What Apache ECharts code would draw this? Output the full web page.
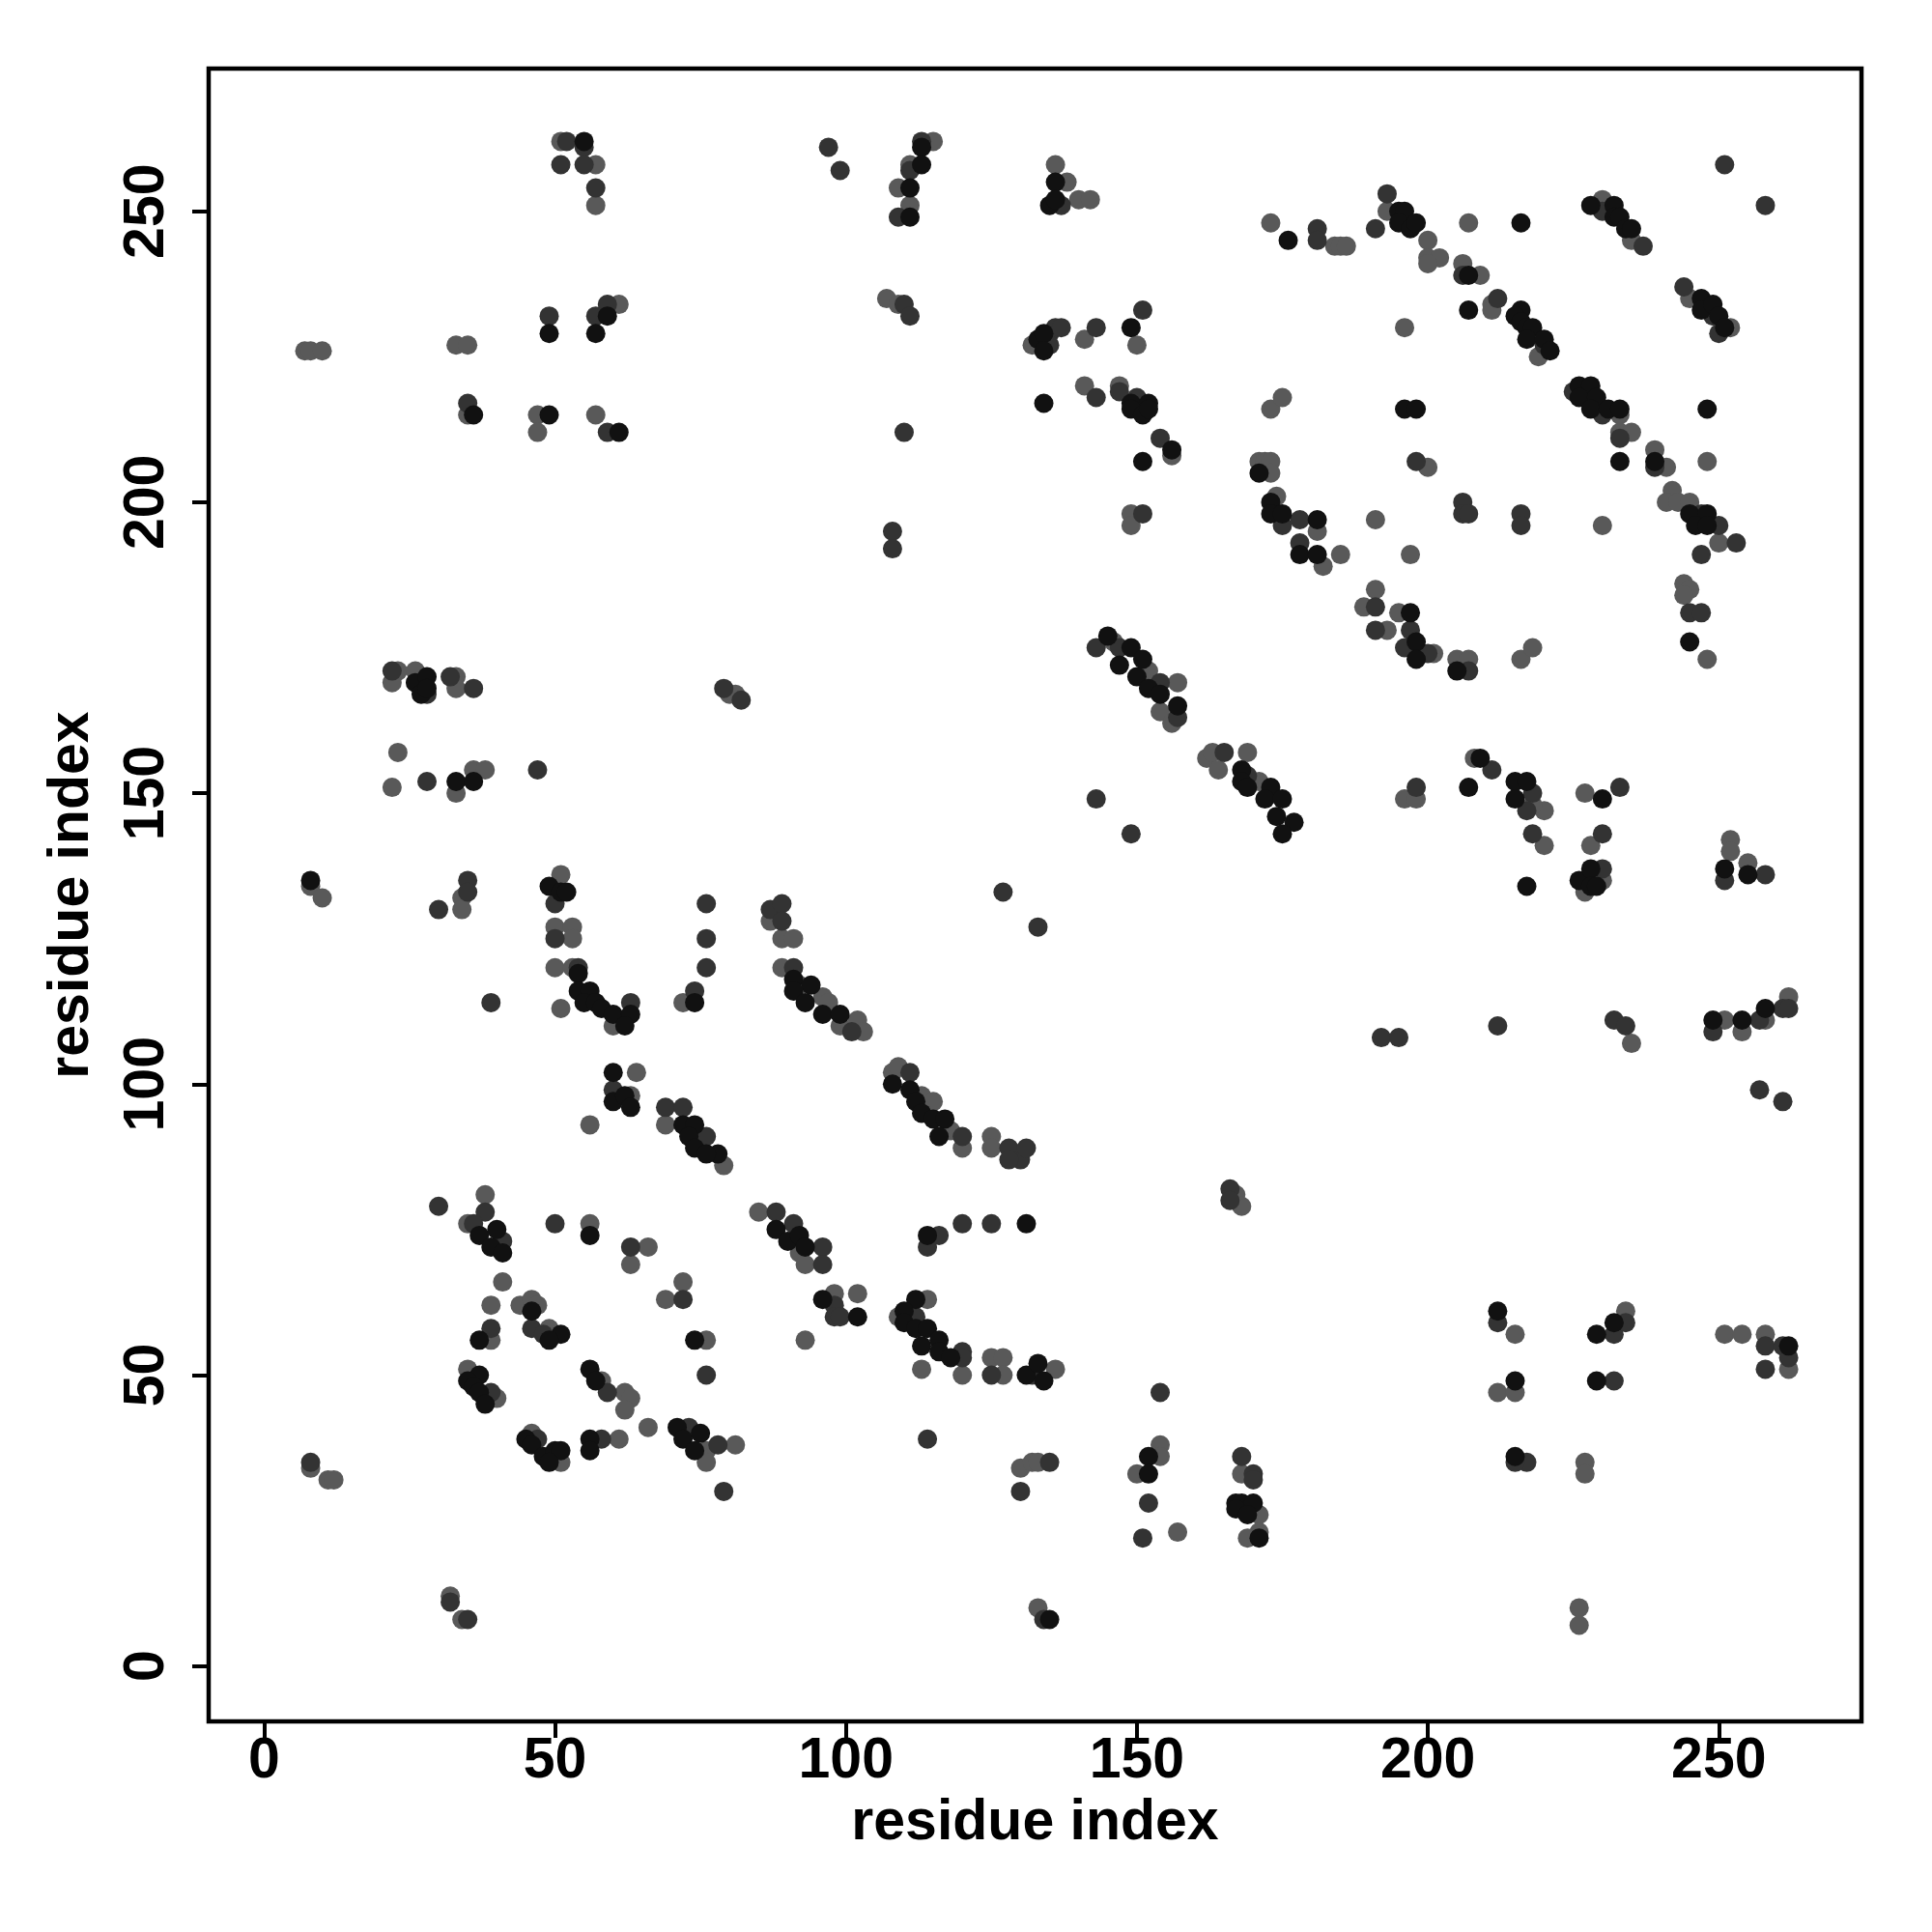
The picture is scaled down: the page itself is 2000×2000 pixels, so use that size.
<!DOCTYPE html>
<html>
<head>
<meta charset="utf-8">
<script src="https://cdn.jsdelivr.net/npm/echarts@6/dist/echarts.min.js"></script>
<style>
html,body{margin:0;padding:0;background:#fff;}
#chart{width:2000px;height:2000px;}
</style>
</head>
<body>
<div id="chart"></div>
<script>
// tick values for both axes
var tickValues = [0, 50, 100, 150, 200, 250];

// contacts drawn in black (highest score)
var blackContacts = [
[55,262],[59,232],[49,229],[57,229],[36,215],[49,215],[61,212],
[113,261],[113,258],[111,254],[111,249],
[136,255],[135,251],[136,252],[176,245],[195,250],[196,250],[195,248],[197,247],[198,248],[133,228],[134,229],[134,226],[149,230],[134,217],[149,217],[152,217],[149,216],[151,215],[152,216],[156,209],[151,207],[171,205],[196,216],[198,216],[173,200],[173,198],[175,198],[181,197],[178,191],[181,191],[197,181],
[216,248],[207,239],[207,233],[216,233],[215,232],[216,231],[217,230],[218,230],[217,228],[220,228],[221,226],[228,251],[232,251],[232,249],[233,249],[234,247],[235,247],[247,235],[247,233],[249,234],[250,232],[251,230],[226,220],[228,220],[226,218],[229,218],[228,216],[231,216],[233,216],[233,207],[239,207],[248,216],[245,198],[248,198],[246,196],[248,196],
[26,169],[28,170],[27,167],[28,168],[33,152],[36,152],[8,135],[49,134],[51,133],[52,133],[54,119],[54,116],[56,116],[55,114],[57,114],[58,113],[60,112],[60,102],[60,97],
[74,114],[63,112],[62,110],[91,118],[94,117],[91,116],[93,114],[96,112],[99,112],[108,100],[111,99],[112,97],[113,95],[115,94],[117,94],[116,91],[72,93],[74,93],[73,91],[74,89],[78,88],[76,88],[62,98],[63,96],
[145,177],[149,175],[147,172],[151,173],[150,170],[152,168],[154,167],[157,165],[168,154],[168,152],[169,151],[173,151],[172,149],[175,149],[174,146],[177,145],[175,143],[198,176],[198,173],
[205,171],[245,176],[209,156],[207,151],[215,152],[217,152],[215,149],[217,134],[230,149],[226,135],[228,137],[228,134],[229,134],[251,137],[255,136],[249,111],[254,111],[258,113],
[37,74],[39,72],[40,75],[41,71],[56,74],[46,61],[37,56],[51,57],[49,56],[37,50],[35,49],[36,48],[37,47],[38,45],[56,51],[57,49],[45,39],[46,38],[48,36],[50,37],[51,37],[49,35],[56,39],[56,37],
[88,75],[90,73],[92,74],[93,72],[74,56],[96,63],[102,60],[114,74],[131,76],[112,63],[110,61],[110,59],[112,58],[114,58],[113,55],[116,56],[116,54],[118,53],[131,50],[71,41],[72,39],[75,40],[74,37],
[133,52],[134,49],[152,36],[152,33],[167,28],[168,28],[170,28],[167,27],[169,26],[171,22],[135,8],
[212,61],[229,57],[232,59],[215,49],[229,49],[215,36],[262,55]
];

// contacts drawn in dark grey (medium score)
var darkContacts = [
[52,262],[55,261],[51,258],[55,258],[57,254],[59,234],[57,232],[49,232],[35,217],[59,212],
[97,261],[99,257],[113,262],[111,257],[109,249],[110,234],[111,232],[110,212],[108,195],[108,192],
[137,251],[181,247],[181,245],[191,247],[193,253],[135,229],[136,230],[137,230],[135,227],[143,230],[151,233],[143,218],[147,219],[150,218],[154,211],[198,207],[151,198],[175,196],[178,197],[178,193],[191,182],
[251,258],[258,251],[206,239],[212,235],[220,227],[230,250],[237,244],[244,237],[249,232],[250,229],[225,219],[230,215],[233,211],[239,206],[247,198],[250,196],[253,193],[247,191],[245,181],[247,181],[206,200],[206,198],[207,198],[216,198],[216,196],
[22,171],[28,167],[32,170],[36,168],[28,152],[47,154],[35,135],[35,133],[30,130],[50,131],[50,125],[54,120],[39,114],[60,99],
[79,168],[82,166],[76,131],[76,125],[76,120],[74,116],[63,114],[87,130],[89,131],[89,128],[91,120],[101,109],[127,133],[111,102],[120,91],[128,89],[130,87],[131,89],[128,87],[69,96],[72,96],[76,91],
[143,175],[147,175],[154,169],[157,163],[165,157],[169,153],[198,151],[143,149],[149,143],[191,178],[197,178],[200,174],[196,175],[133,127],[192,108],[195,108],
[207,171],[211,154],[218,150],[217,147],[218,143],[233,151],[230,143],[230,137],[251,135],[258,136],[212,110],[232,111],[234,110],[249,109],[257,111],[261,113],[262,113],[257,99],[261,97],
[30,79],[38,78],[36,76],[41,73],[50,76],[39,58],[46,58],[48,57],[39,47],[59,47],[47,39],[58,39],[8,35],[32,11],[35,8],
[88,78],[91,76],[96,72],[96,69],[63,72],[72,63],[76,50],[98,62],[98,60],[99,60],[116,74],[114,72],[120,76],[125,76],[112,60],[120,54],[120,53],[125,50],[114,39],[73,41],[78,38],[79,30],[130,30],
[166,82],[166,80],[132,50],[154,47],[135,35],[152,28],[151,22],[168,36],[170,33],[170,32],[134,8],
[212,59],[232,57],[234,59],[232,49],[217,35],[215,35],[258,55],[261,55],[258,51],[262,53]
];

// contacts drawn in light grey (lower score)
var grayContacts = [
[51,262],[57,258],[57,251],[61,234],[7,226],[8,226],[10,226],[33,227],[35,227],[35,215],[47,215],[47,212],[57,215],
[115,262],[111,258],[109,254],[111,251],[107,235],[109,234],
[136,258],[138,255],[140,252],[142,252],[173,248],[184,244],[185,244],[186,244],[193,250],[200,245],[200,242],[202,242],[200,241],[132,227],[141,228],[150,227],[196,230],[141,220],[147,220],[156,208],[171,207],[172,207],[173,207],[173,205],[200,206],[149,198],[149,196],[174,201],[181,195],[182,189],[185,191],[191,197],[197,191],[191,185],[189,182],[195,181],[173,216],[175,218],
[207,248],[206,241],[209,239],[211,234],[211,233],[219,225],[230,252],[235,245],[245,235],[252,230],[233,215],[233,212],[235,212],[239,209],[241,206],[248,207],[242,202],[241,200],[243,200],[245,200],[250,193],[244,186],[245,185],[244,184],[230,196],
[23,171],[22,169],[26,171],[33,170],[33,168],[23,157],[22,151],[33,150],[36,154],[38,154],[8,134],[10,132],[34,132],[34,130],[51,136],[50,127],[53,127],[53,125],[50,120],[53,120],[51,113],[60,110],[56,93],
[80,167],[81,167],[72,114],[87,128],[89,125],[91,125],[89,120],[92,117],[96,115],[97,114],[99,110],[102,111],[103,109],[108,102],[109,103],[113,98],[115,97],[118,92],[120,89],[125,91],[125,89],[69,93],[79,86],[64,102],[63,98],
[146,176],[152,171],[157,169],[154,164],[156,162],[162,156],[163,157],[164,154],[169,157],[171,152],[196,149],[198,149],[193,178],[201,174],
[205,173],[207,173],[216,173],[218,175],[248,173],[208,156],[220,147],[218,148],[220,141],[227,150],[228,141],[227,133],[230,135],[252,142],[252,140],[255,138],[235,107],[251,111],[254,109],[258,111],[262,115],
[38,81],[35,76],[56,76],[41,66],[39,62],[44,62],[46,63],[47,62],[39,56],[49,58],[35,51],[40,46],[58,49],[46,40],[51,35],[61,39],[8,34],[11,32],[12,32],[32,12],[34,8],
[85,78],[92,71],[93,69],[66,72],[63,69],[72,66],[69,63],[76,56],[93,56],[98,64],[102,64],[114,63],[109,60],[113,51],[120,50],[125,53],[127,53],[127,50],[62,47],[63,46],[62,44],[66,41],[76,37],[81,38],[76,35],[130,34],[132,35],
[167,81],[168,79],[136,51],[133,35],[154,38],[154,36],[150,33],[157,23],[168,33],[171,26],[171,23],[169,22],[133,10],
[215,57],[234,61],[212,47],[215,47],[227,35],[227,33],[226,10],[226,7],[251,57],[254,57],[258,57],[262,51]
];

var FONT = 'Liberation Sans';
var chart = echarts.init(document.getElementById('chart'), null, {renderer: 'canvas', width: 2000, height: 2000});

function makeAxis(isX) {
  return {
    type: 'value',
    min: -9.52,
    max: 274.52,
    name: 'residue index',
    nameLocation: 'middle',
    nameGap: isX ? 76 : 112,
    nameRotate: isX ? 0 : 90,
    nameTextStyle: {fontFamily: FONT, fontWeight: 'bold', fontSize: 59, color: '#000'},
    splitLine: {show: false},
    axisLine: {show: true, onZero: false, lineStyle: {color: '#000', width: 4}},
    axisTick: {show: true, inside: false, length: 17, customValues: tickValues, lineStyle: {color: '#000', width: 4}},
    axisLabel: {
      show: true, customValues: tickValues, rotate: isX ? 0 : 90,
      margin: isX ? 12 : 34,
      fontFamily: FONT, fontWeight: 'bold', fontSize: 59, color: '#000'
    }
  };
}

function makeSeries(name, data, color, z) {
  return {
    name: name, type: 'scatter', data: data, symbol: 'circle', symbolSize: 20,
    itemStyle: {color: color, opacity: 1}, z: z, silent: true
  };
}

chart.setOption({
  animation: false,
  backgroundColor: '#fff',
  grid: {left: 216, top: 71, right: 73, bottom: 218, show: true, borderColor: '#000', borderWidth: 4.5, backgroundColor: 'transparent'},
  xAxis: makeAxis(true),
  yAxis: makeAxis(false),
  series: [
    makeSeries('low', grayContacts, '#595959', 2),
    makeSeries('mid', darkContacts, '#333333', 3),
    makeSeries('high', blackContacts, '#111111', 4)
  ]
});
</script>
</body>
</html>
